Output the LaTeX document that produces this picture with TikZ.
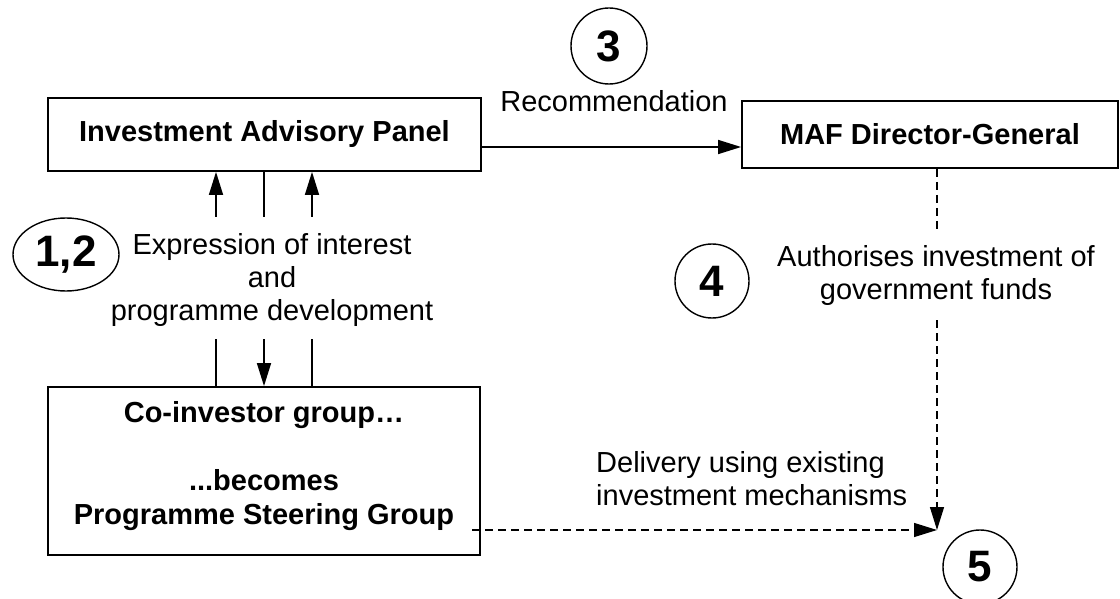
\documentclass[tikz,border=0pt]{standalone}
\usepackage{fontspec}
\setmainfont{Liberation Sans}
\usetikzlibrary{arrows.meta,shapes.geometric}
\begin{document}
\begin{tikzpicture}[x=1pt,y=-1pt,
  txt/.style={font=\fontsize{29}{33}\selectfont, inner sep=0pt, align=center},
  boxed/.style={draw, line width=1.8pt, inner sep=0pt, font=\fontsize{29}{33}\selectfont\bfseries, align=center},
  num/.style={draw, line width=1.4pt, inner sep=0pt, font=\fontsize{44}{48}\selectfont\bfseries},
  arr/.style={line width=1.5pt, -{Triangle[length=23pt,width=14pt]}},
  plainln/.style={line width=1.5pt},
  dashln/.style={line width=1.3pt, dash pattern=on 8pt off 5pt},
  dasharr/.style={dashln, -{Triangle[length=23pt,width=14pt]}}
]
\useasboundingbox (0,0) rectangle (1120,599);
% boxes
\node[boxed, minimum width=433pt, minimum height=73pt] (iap) at (264.5,134.5) {Investment Advisory Panel};
\node[boxed, minimum width=376pt, minimum height=67pt] (maf) at (930,134.5) {MAF Director-General};
\node[boxed, minimum width=432pt, minimum height=168pt] (cig) at (264,471) {};
\node[txt, font=\fontsize{29}{34}\selectfont\bfseries] (cigtext) at (264,466) {Co-investor group\ldots\\[34pt]...becomes\\Programme Steering Group};
% numbered markers
\node[num, ellipse, minimum width=106pt, minimum height=73pt] (n12) at (66,254.5) {1,2};
\node[num, circle, minimum size=76pt] (n3) at (609,46) {3};
\node[num, circle, minimum size=74pt] (n4) at (712,281) {4};
\node[num, circle, minimum size=74pt] (n5) at (980,567) {5};
% labels
\node[txt] (rec) at (614,101) {Recommendation};
\node[txt] (expr) at (272,280) {Expression of interest\\and\\programme development};
\node[txt] (auth) at (936,276) {Authorises investment of\\government funds};
\node[txt, align=left, anchor=west] (deliv) at (596,479) {Delivery using existing\\investment mechanisms};
% coordinates
\coordinate (ua) at (216,217);
\coordinate (ub) at (264,217);
\coordinate (uc) at (312,217);
\coordinate (la) at (216,339);
\coordinate (lb) at (264,339);
\coordinate (lc) at (312,339);
\coordinate (v1) at (937,230);
\coordinate (v2) at (937,320);
\coordinate (tip) at (937,530);
\coordinate (hs) at (472,530);
% connectors
\draw[arr] (iap.east |- 0,147) -- (maf.west |- 0,147);
\draw[arr] (ua) -- (ua |- iap.south);
\draw[plainln] (ub) -- (ub |- iap.south);
\draw[arr] (uc) -- (uc |- iap.south);
\draw[plainln] (la) -- (la |- cig.north);
\draw[arr] (lb) -- (lb |- cig.north);
\draw[plainln] (lc) -- (lc |- cig.north);
\draw[dashln] (v1 |- maf.south) -- (v1);
\draw[dasharr] (v2) -- (tip);
\draw[dasharr] (hs) -- (tip);
\end{tikzpicture}
\end{document}
